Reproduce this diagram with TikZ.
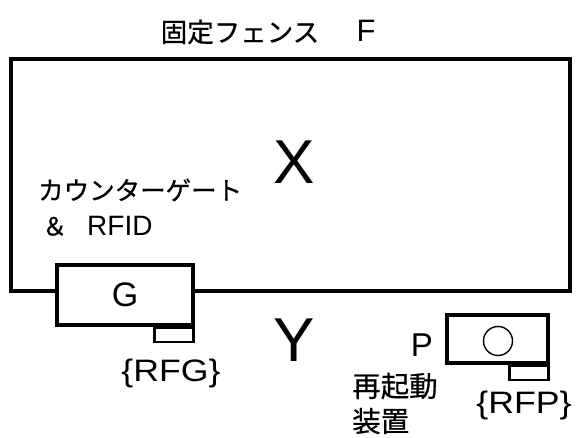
\documentclass[tikz,border=0pt]{standalone}
\usepackage{fontspec}
\setmainfont{Liberation Sans}
\newfontfamily\jp[FakeBold=0.6]{Noto Sans CJK JP}
\begin{document}
\begin{tikzpicture}[x=1pt,y=-1pt,
  thick line/.style={line width=3.2pt},
  boxG/.style={draw,thick line,rectangle,inner sep=0pt},
  tabbox/.style={draw,line width=2.6pt,rectangle,inner sep=0pt,minimum width=39pt,minimum height=14pt},
  lbl/.style={inner sep=0pt}]
\useasboundingbox (0,0) rectangle (581,438);
% boxes
\node[boxG,minimum width=136pt,minimum height=60pt] (G) at (125,295) {\fontsize{34}{34}\selectfont G};
\node[tabbox,anchor=north east] (tg) at (G.south east) {};
\node[boxG,minimum width=101pt,minimum height=48pt] (P) at (497.5,339) {};
\node[draw,circle,line width=1.4pt,minimum size=29pt,inner sep=0pt] (c) at (498,341) {};
\node[tabbox,anchor=north east] (tp) at (P.south east) {};
% fence
\coordinate (fl) at (11,291);
\coordinate (ftl) at (11,59);
\coordinate (ftr) at (570,59);
\coordinate (fr) at (570,291);
\draw[thick line,line join=miter] (G.west |- fl) -- (fl) -- (ftl) -- (ftr) -- (fr) -- (G.east |- fr);
% labels
\node[lbl] (t1) at (240,32) {\jp\fontsize{26.5}{26.5}\selectfont 固定フェンス};
\node[lbl] (F) at (366,31) {\fontsize{31}{31}\selectfont F};
\node[lbl] (X) at (294,162) {\fontsize{62}{62}\selectfont X};
\node[lbl] (Y) at (294,340) {\fontsize{62}{62}\selectfont Y};
\node[lbl,anchor=west] (cg) at (38,190) {\jp\fontsize{25.5}{25.5}\selectfont カウンターゲート};
\node[lbl,anchor=west] (rf) at (42,226) {{\jp\fontsize{25}{25}\selectfont ＆}\hspace{20pt}\fontsize{28}{28}\selectfont RFID};
\node[lbl] (rfg) at (171,373) {\scalebox{1.15}[1]{\fontsize{31}{31}\selectfont\{RFG\}}};
\node[lbl] (Pl) at (422,345) {\fontsize{33}{33}\selectfont P};
\node[lbl,anchor=west] (r1) at (352,386) {\jp\fontsize{28.5}{28.5}\selectfont 再起動};
\node[lbl,anchor=west] (r2) at (352,421) {\jp\fontsize{28.5}{28.5}\selectfont 装置};
\node[lbl] (rfp) at (524,405) {\scalebox{1.15}[1]{\fontsize{31}{31}\selectfont\{RFP\}}};
\end{tikzpicture}
\end{document}
